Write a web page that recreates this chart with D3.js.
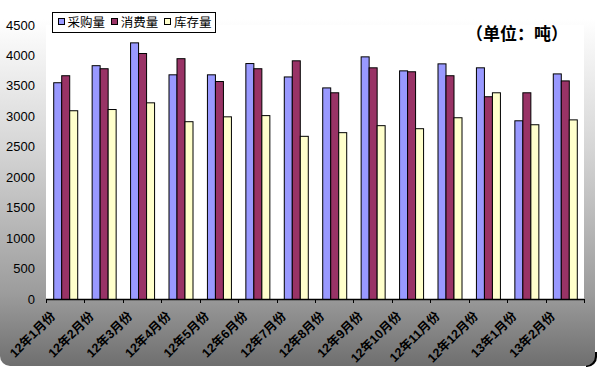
<!DOCTYPE html>
<html><head><meta charset="utf-8">
<script src="https://cdnjs.cloudflare.com/ajax/libs/d3/7.8.5/d3.min.js"></script>
<style>body{margin:0;background:#fff}svg{display:block}</style>
</head><body>
<svg id="c" width="598" height="367"></svg>
<script>
const categories = ["12年1月份","12年2月份","12年3月份","12年4月份","12年5月份","12年6月份","12年7月份","12年8月份","12年9月份","12年10月份","12年11月份","12年12月份","13年1月份","13年2月份"];
const seriesNames = ["采购量","消费量","库存量"];
const purchase = [3560,3840,4215,3690,3690,3875,3655,3475,3985,3755,3870,3805,2935,3705];
const consume  = [3675,3790,4040,3955,3580,3790,3920,3395,3805,3740,3675,3330,3395,3590];
const stock    = [3100,3120,3230,2920,3000,3020,2680,2740,2855,2805,2985,3395,2870,2950];
const yTicks = [0,500,1000,1500,2000,2500,3000,3500,4000,4500];
const unitLabel = "（单位：吨）";
const colors = ["#9999FF","#993366","#FFFFCC"];

const svg = d3.select("#c");
const defs = svg.append("defs");
const g = defs.append("linearGradient").attr("id","bg")
  .attr("gradientUnits","userSpaceOnUse").attr("x1",0).attr("y1",0).attr("x2",0).attr("y2",367);
[[0,"#ffffff"],[0.05,"#ffffff"],[0.4,"#d6d6d6"],[0.8,"#9c9c9c"],[1,"#6e6e6e"]].forEach(s=>g.append("stop").attr("offset",s[0]).attr("stop-color",s[1]));
defs.append("clipPath").attr("id","sc").append("rect").attr("x",586).attr("y",352).attr("width",20).attr("height",20);

svg.append("rect").attr("x",2).attr("y",-8).attr("width",595).attr("height",375).attr("rx",10)
  .attr("fill","#000").attr("clip-path","url(#sc)");
svg.append("rect").attr("x",0).attr("y",-10).attr("width",595).attr("height",376).attr("rx",10).attr("fill","url(#bg)");

const L=46,R=584,T=25,B=299;
const x0 = d3.scaleBand().domain(categories).range([L,R]).padding(0);
const bw = 8;
const x1 = d3.scaleBand().domain(seriesNames).range([0,bw*3]);
const y = d3.scaleLinear().domain([0,4500]).range([B,T]);

svg.append("rect").attr("x",L).attr("y",T).attr("width",R-L).attr("height",B-T).attr("fill","#fff");

const data = [purchase,consume,stock];
const off = (x0.bandwidth()-bw*3)/2;
data.forEach((arr,si)=>{
  svg.append("g").selectAll("rect").data(arr).join("rect")
    .attr("x",(d,i)=>x0(categories[i])+off+x1(seriesNames[si])+0.5)
    .attr("y",d=>y(d)+0.5)
    .attr("width",bw)
    .attr("height",d=>B-y(d))
    .attr("fill",colors[si]).attr("stroke","#000").attr("stroke-width",1);
});

const ax = svg.append("g");
ax.append("line").attr("x1",L).attr("x2",R).attr("y1",B+0.5).attr("y2",B+0.5).attr("stroke","#000").attr("stroke-width",1.5);
d3.range(categories.length+1).forEach(i=>{
  const xx = Math.round(L + i*x0.step())+0.5;
  ax.append("line").attr("x1",xx).attr("x2",xx).attr("y1",B).attr("y2",B+4).attr("stroke","#000");
});

svg.append("g").selectAll("text").data(yTicks).join("text")
  .attr("x",35).attr("y",d=>y(d)).attr("dy","0.35em").attr("text-anchor","end")
  .attr("font-family","Liberation Sans, Arial, sans-serif").attr("font-size",13).attr("fill","#000")
  .text(d=>d);

svg.append("g").selectAll("text").data(categories).join("text")
  .attr("transform",d=>`translate(${x0(d)+x0.bandwidth()/2-9},317) rotate(-45)`)
  .attr("text-anchor","end")
  .attr("font-family","Liberation Sans, 'Noto Sans CJK SC', sans-serif").attr("font-weight","bold")
  .attr("font-size",12.5).attr("fill","#000")
  .text(d=>d);

const lg = svg.append("g");
lg.append("rect").attr("x",52.5).attr("y",12.5).attr("width",163).attr("height",20).attr("fill","#fff").attr("stroke","#000");
seriesNames.forEach((n,i)=>{
  const sx = 57.5 + i*53.3;
  lg.append("rect").attr("x",Math.round(sx)+0.5).attr("y",18.5).attr("width",6).attr("height",6).attr("fill",colors[i]).attr("stroke","#000");
  lg.append("text").attr("x",sx+10).attr("y",27).attr("font-family","'Noto Sans CJK SC', sans-serif").attr("font-size",12.5).attr("fill","#000").text(n);
});

svg.append("text").attr("x",466).attr("y",40).attr("font-family","'Noto Sans CJK SC', sans-serif")
  .attr("font-weight","bold").attr("font-size",17).attr("fill","#000").text(unitLabel);
</script>
</body></html>
